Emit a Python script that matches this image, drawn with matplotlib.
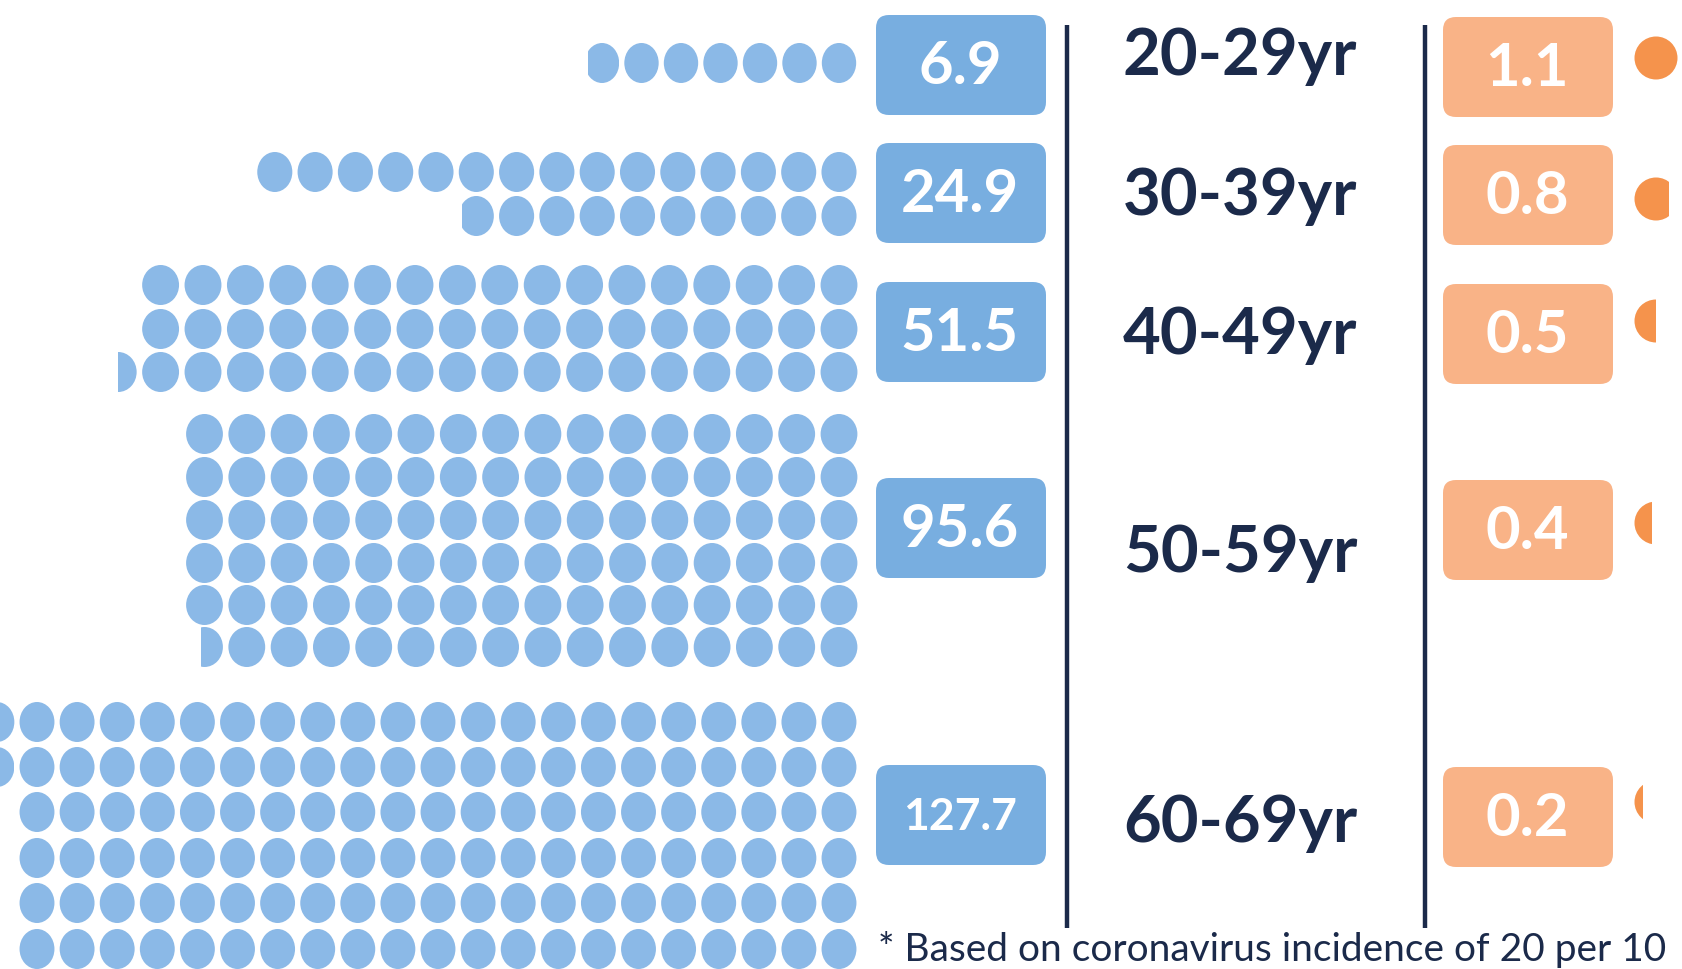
import math
import matplotlib
matplotlib.use("Agg")
import matplotlib.pyplot as plt
from matplotlib.patches import Ellipse, Rectangle, FancyBboxPatch

# data
age_groups = ["20-29yr", "30-39yr", "40-49yr", "50-59yr", "60-69yr"]
blue_values = [6.9, 24.9, 51.5, 95.6, 127.7]
orange_values = [1.1, 0.8, 0.5, 0.4, 0.2]
# how each group's blue dots are split over rows, top to bottom
blue_rows = [[6.9],
             [15, 9.9],
             [17, 17, 17.5],
             [16, 16, 16, 16, 16, 15.6],
             [22, 21.7, 21, 21, 21, 21]]
footnote = "* Based on coronavirus incidence of 20 per 10"

# layout (pixels, origin top-left)
W, H = 1682, 969
dot_right = 839
dot_step = [39.5, 40.3, 42.4, 42.3, 40.1]
dot_h = 40
row_y = [[63],
         [172, 216],
         [285, 329, 372],
         [434, 477, 520, 563, 605, 647],
         [722, 767, 812, 858, 903, 949]]
box_y = [65, 193, 332, 528, 815]
label_base = [75, 215, 354, 572, 842]
orange_dot_y = [58, 199, 321, 523, 802]
value_font = [43, 43, 43, 43, 32]

blue_dot = "#8bb9e7"
blue_box = "#78aee0"
orange_box = "#f9b387"
orange_dot = "#f5934c"
navy = "#1b2a4a"

plt.rcParams['font.family'] = ['Lato', 'DejaVu Sans']

fig = plt.figure(figsize=(W / 100, H / 100), dpi=100)
ax = fig.add_axes([0, 0, 1, 1])
ax.set_xlim(0, W)
ax.set_ylim(H, 0)
ax.axis('off')


def dot_row(amount, y, step):
    w = step * 0.87
    for k in range(math.ceil(amount)):
        frac = min(1.0, amount - k)
        cx = dot_right - k * step
        e = Ellipse((cx, y), w, dot_h, color=blue_dot, lw=0)
        ax.add_patch(e)
        if frac < 1:
            # fill goes right to left, keep the right part of the last dot
            clip = Rectangle((cx + w / 2 - frac * w, y - dot_h), frac * w, 2 * dot_h,
                             transform=ax.transData)
            e.set_clip_path(clip)


def rounded_box(cx, cy, color):
    ax.add_patch(FancyBboxPatch((cx - 85, cy - 50), 170, 100,
                                boxstyle="round,pad=0,rounding_size=13",
                                fc=color, ec='none'))


for i, group in enumerate(age_groups):
    for amount, y in zip(blue_rows[i], row_y[i]):
        dot_row(amount, y, dot_step[i])

    rounded_box(961, box_y[i], blue_box)
    ax.text(960, box_y[i] + 2, f"{blue_values[i]}", color='white', fontsize=value_font[i],
            fontweight='bold', ha='center', va='center')

    ax.text(1240, label_base[i], group, color=navy, fontsize=47, fontweight='bold',
            ha='center', va='baseline')

    rounded_box(1528, box_y[i] + 2, orange_box)
    ax.text(1527, box_y[i] + 4, f"{orange_values[i]}", color='white', fontsize=43,
            fontweight='bold', ha='center', va='center')

    # orange dots run left to right, last one cut on its right side
    d = 43
    val = orange_values[i]
    for k in range(math.ceil(val)):
        frac = min(1.0, val - k)
        cx = 1656 + k * (d + 5)
        e = Ellipse((cx, orange_dot_y[i]), d, d, color=orange_dot, lw=0)
        ax.add_patch(e)
        if frac < 1:
            clip = Rectangle((cx - d / 2, orange_dot_y[i] - d), frac * d, 2 * d,
                             transform=ax.transData)
            e.set_clip_path(clip)

# divider lines
ax.plot([1067, 1067], [25, 928], color=navy, lw=3.2, solid_capstyle='butt')
ax.plot([1425, 1425], [25, 928], color=navy, lw=3.2, solid_capstyle='butt')

ax.text(878, 961, footnote, color=navy, fontsize=28, ha='left', va='baseline')

fig.savefig("out.png", dpi=100, facecolor='white')
